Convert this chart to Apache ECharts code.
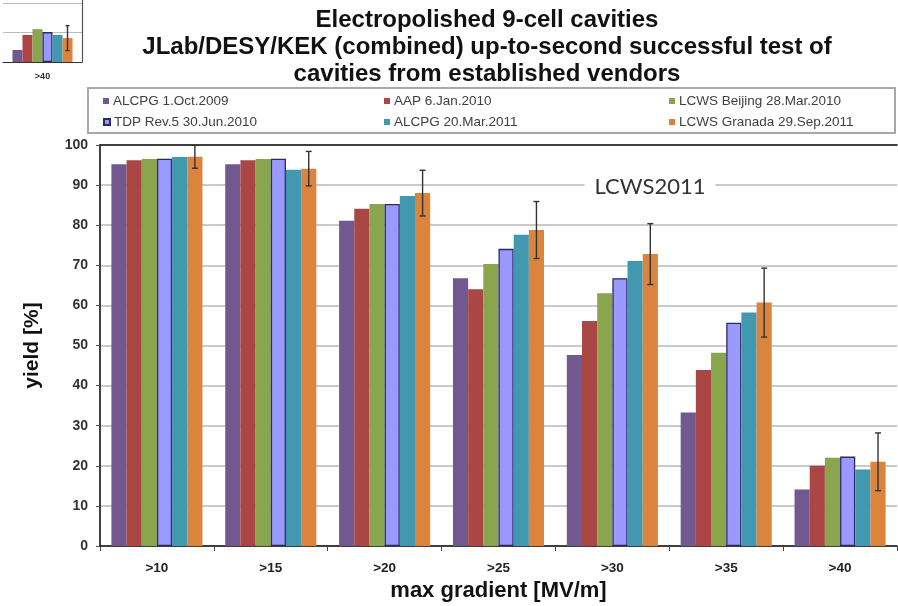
<!DOCTYPE html>
<html>
<head>
<meta charset="utf-8">
<script src="https://cdn.jsdelivr.net/npm/echarts@6/dist/echarts.min.js"></script>
<style>
  html, body { margin: 0; padding: 0; background: #fff; }
  #chart { width: 898px; height: 606px; }
</style>
</head>
<body>
<div id="chart"></div>
<script>
// Gradient thresholds on the x axis
const categories = ['>10', '>15', '>20', '>25', '>30', '>35', '>40'];

// Yield [%] per data set, one value per gradient threshold
const alcpg2009   = [95.2, 95.2, 81.1, 66.8, 47.6, 33.3, 14.1];
const aap2010     = [96.2, 96.2, 84.1, 64.0, 56.1, 43.9, 20.0];
const beijing2010 = [96.5, 96.5, 85.3, 70.3, 63.0, 48.2, 22.0];
const tdp2010     = [96.6, 96.6, 85.3, 74.1, 66.8, 55.7, 22.3];
const alcpg2011   = [97.0, 93.8, 87.3, 77.6, 71.1, 58.2, 19.1];
const granada2011 = [97.1, 94.1, 88.0, 78.8, 72.8, 60.7, 21.0];

// Symmetric error on the latest (Granada) data set
const granadaError = [2.9, 4.3, 5.7, 7.1, 7.6, 8.6, 7.2];

// Series names as shown in the legend
const seriesNames = [
  'ALCPG 1.Oct.2009',
  'AAP 6.Jan.2010',
  'LCWS Beijing 28.Mar.2010',
  'TDP Rev.5 30.Jun.2010',
  'ALCPG 20.Mar.2011',
  'LCWS Granada 29.Sep.2011'
];

// Small thumbnail panel in the corner (>40 MV/m only)
const insetCategories = ['>40'];
const insetYield = [8.2, 18.4, 22.4, 20.4, 18.4, 16.3];
const insetError = [8.5];

// Y axis ticks
const yMin = 0, yMax = 100, yStep = 10;

const colors = ['#71588F', '#AA4643', '#89A54E', '#9999FF', '#4198AF', '#DB843D'];
const seriesData = [alcpg2009, aap2010, beijing2010, tdp2010, alcpg2011, granada2011];

const FONT = "'Liberation Sans', Arial, sans-serif";

function itemStyleFor(i) {
  const s = { color: colors[i] };
  if (i === 3) { s.borderColor = '#2b2b5e'; s.borderWidth = 1.3; }
  return s;
}

// Error bar drawn at the centre of the 6th bar within each group
function errorBarRenderer(gapRatio, capHalf) {
  return function (params, api) {
    const idx = api.value(0);
    const lo = api.coord([idx, api.value(1)]);
    const hi = api.coord([idx, api.value(2)]);
    const catW = api.size([1, 0])[0];
    const groupW = catW * (1 - gapRatio);
    const off = groupW * (5.5 / 6 - 0.5);
    const x = lo[0] + off;
    const style = { stroke: '#333', lineWidth: 1.4 };
    return {
      type: 'group',
      children: [
        { type: 'line', shape: { x1: x, y1: lo[1], x2: x, y2: hi[1] }, style },
        { type: 'line', shape: { x1: x - capHalf, y1: lo[1], x2: x + capHalf, y2: lo[1] }, style },
        { type: 'line', shape: { x1: x - capHalf, y1: hi[1], x2: x + capHalf, y2: hi[1] }, style }
      ]
    };
  };
}

const series = [];
seriesData.forEach((d, i) => {
  series.push({
    name: seriesNames[i], type: 'bar', xAxisIndex: 0, yAxisIndex: 0,
    data: d, barGap: '0%', barCategoryGap: '20%',
    itemStyle: itemStyleFor(i), animation: false
  });
});
series.push({
  name: 'err', type: 'custom', xAxisIndex: 0, yAxisIndex: 0, clip: true, z: 5,
  data: granada2011.map((v, i) => [i, v - granadaError[i], v + granadaError[i]]),
  renderItem: errorBarRenderer(0.2, 3), animation: false
});
insetYield.forEach((v, i) => {
  series.push({
    name: seriesNames[i], type: 'bar', xAxisIndex: 2, yAxisIndex: 1,
    data: [v], barGap: '0%', barCategoryGap: '24%',
    itemStyle: itemStyleFor(i), animation: false
  });
});
series.push({
  name: 'insetErr', type: 'custom', xAxisIndex: 2, yAxisIndex: 1, clip: true, z: 5,
  data: insetError.map((e, i) => [i, insetYield[5] - e, insetYield[5] + e]),
  renderItem: errorBarRenderer(0.24, 2), animation: false
});

// Legend laid out in three columns, two rows
const legendCols = [103, 384, 669];
const legendRows = [94, 115];
const legendOrder = [[0, 3], [1, 4], [2, 5]];
const legends = [];
legendOrder.forEach((col, c) => {
  col.forEach((si, r) => {
    legends.push({
      data: [seriesNames[si]], left: legendCols[c], top: legendRows[r],
      padding: 0, itemWidth: 6, itemHeight: 6, icon: 'rect',
      selectedMode: false,
      textStyle: { fontFamily: FONT, fontSize: 13.5, color: '#404040', padding: [0, 0, 0, -1] }
    });
  });
});

const chart = echarts.init(document.getElementById('chart'), null, { renderer: 'canvas' });
chart.setOption({
  animation: false,
  backgroundColor: '#ffffff',
  grid: [
    { left: 100, right: 1, top: 145, bottom: 60, outerBoundsMode: 'none', containLabel: false },
    { left: 3, width: 79, top: -4, height: 66, outerBoundsMode: 'none', containLabel: false }
  ],
  xAxis: [
    {
      type: 'category', gridIndex: 0, data: categories,
      axisLine: { lineStyle: { color: '#111', width: 1.6 } },
      axisTick: { show: true, length: 5, lineStyle: { color: '#444' } },
      axisLabel: { margin: 15, fontFamily: FONT, fontSize: 13.5, fontWeight: 'bold', color: '#222' },
      name: 'max gradient [MV/m]', nameLocation: 'middle', nameGap: 34,
      nameTextStyle: { fontFamily: FONT, fontSize: 22, fontWeight: 'bold', color: '#111' }
    },
    {
      type: 'category', gridIndex: 0, data: categories, position: 'top',
      axisLine: { lineStyle: { color: '#111', width: 1.6 } },
      axisTick: { show: false }, axisLabel: { show: false }
    },
    {
      type: 'category', gridIndex: 1, data: insetCategories,
      axisLine: { lineStyle: { color: '#333', width: 1.2 } },
      axisTick: { show: false },
      axisLabel: { margin: 10, fontFamily: FONT, fontSize: 9, fontWeight: 'bold', color: '#333' }
    }
  ],
  yAxis: [
    {
      type: 'value', gridIndex: 0, min: yMin, max: yMax, interval: yStep,
      axisLine: { show: true, lineStyle: { color: '#111', width: 1.6 } },
      axisTick: { show: true, length: 4, lineStyle: { color: '#555' } },
      splitLine: { lineStyle: { color: '#b8b8b8', width: 1.5 } },
      axisLabel: { margin: 12, fontFamily: FONT, fontSize: 14, fontWeight: 'bold', color: '#333' },
      name: 'yield [%]', nameLocation: 'middle', nameGap: 57, nameRotate: 90,
      nameTextStyle: { fontFamily: FONT, fontSize: 21, fontWeight: 'bold', color: '#111' }
    },
    {
      type: 'value', gridIndex: 1, min: 0, max: 45, interval: 20, position: 'right',
      axisLine: { show: true, lineStyle: { color: '#555', width: 1.2 } },
      axisTick: { show: false }, axisLabel: { show: false },
      splitLine: { lineStyle: { color: '#bbb', width: 1.2 } }
    }
  ],
  legend: legends,
  graphic: [
    {
      type: 'rect', z: -10, silent: true,
      shape: { x: 88, y: 88, width: 807, height: 45 },
      style: { fill: '#fff', stroke: '#a8a8a8', lineWidth: 2 }
    },
    {
      type: 'text', silent: true, z: 10, x: 487, y: 7,
      style: {
        text: 'Electropolished 9-cell cavities\nJLab/DESY/KEK (combined) up-to-second successful test of\ncavities from established vendors',
        textAlign: 'center', textVerticalAlign: 'top',
        font: "bold 24px 'Liberation Sans', Arial, sans-serif", lineHeight: 27, fill: '#111'
      }
    },
    {
      type: 'text', silent: true, z: 10, x: 650, y: 187,
      style: {
        text: 'LCWS2011', textAlign: 'center', textVerticalAlign: 'middle',
        font: "22px Lato, 'Liberation Sans', sans-serif", fill: '#333',
        backgroundColor: '#fff', padding: [3, 10]
      }
    }
  ],
  series: series
});
</script>
</body>
</html>
